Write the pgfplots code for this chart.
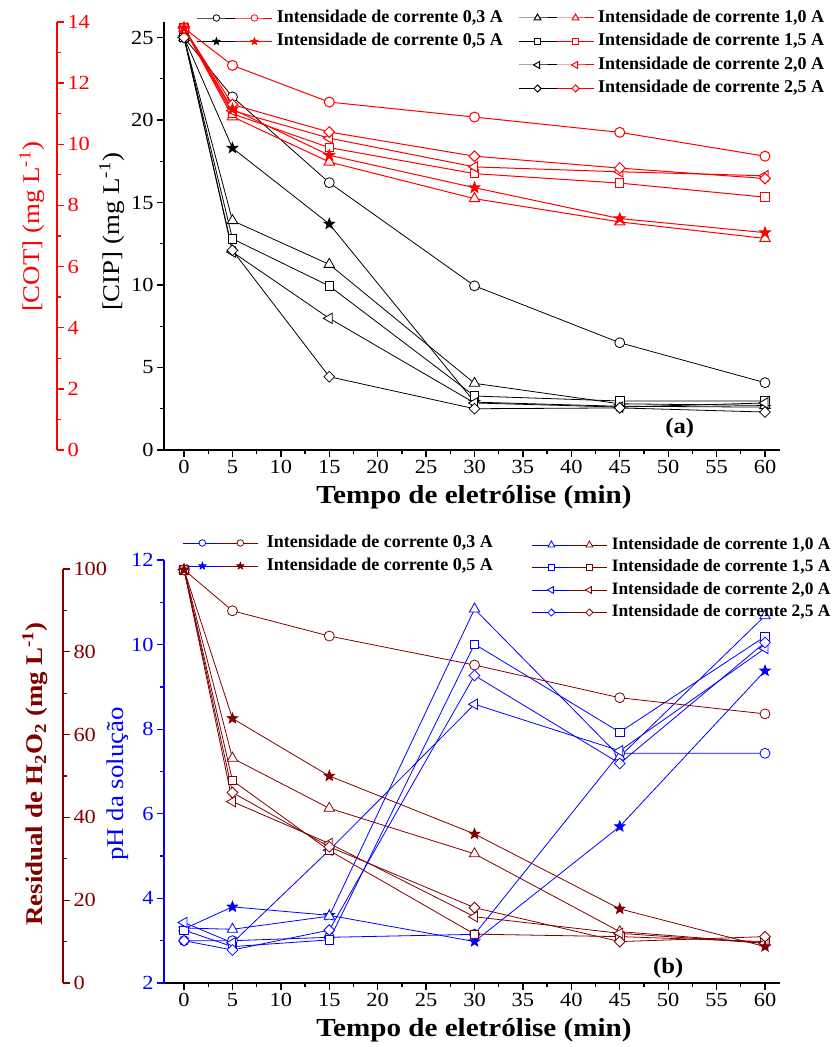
\documentclass[border=0pt]{standalone}
\usepackage{fontspec}
\setmainfont{Liberation Serif}[FakeStretch=1.12]
\newfontfamily\legfont{Liberation Serif}
\usepackage{pgfplots}
\pgfplotsset{compat=1.18}

\definecolor{cotred}{RGB}{255,0,0}
\definecolor{peroxide}{RGB}{128,0,0}
\definecolor{phblue}{RGB}{0,0,255}

% filled five-pointed star
\pgfdeclareplotmark{fstar}{%
  \pgfpathmoveto{\pgfpointpolar{90}{\pgfplotmarksize}}%
  \pgfpathlineto{\pgfpointpolar{126}{0.42\pgfplotmarksize}}%
  \pgfpathlineto{\pgfpointpolar{162}{\pgfplotmarksize}}%
  \pgfpathlineto{\pgfpointpolar{198}{0.42\pgfplotmarksize}}%
  \pgfpathlineto{\pgfpointpolar{234}{\pgfplotmarksize}}%
  \pgfpathlineto{\pgfpointpolar{270}{0.42\pgfplotmarksize}}%
  \pgfpathlineto{\pgfpointpolar{306}{\pgfplotmarksize}}%
  \pgfpathlineto{\pgfpointpolar{342}{0.42\pgfplotmarksize}}%
  \pgfpathlineto{\pgfpointpolar{18}{\pgfplotmarksize}}%
  \pgfpathlineto{\pgfpointpolar{54}{0.42\pgfplotmarksize}}%
  \pgfpathclose\pgfusepathqfillstroke}

\newcommand\ticksize{\fontsize{20}{22}\selectfont}
\newcommand\legsize{\legfont\bfseries\fontsize{18}{20}\selectfont}
\newcommand\legsizeb{\legfont\bfseries\fontsize{17.4}{20}\selectfont}

\pgfplotsset{
  mO/.style={mark=*, mark size=5pt, mark options={solid, fill=white}},
  mS/.style={mark=fstar, mark size=5.5pt, mark options={solid}},
  mT/.style={mark=triangle*, mark size=6pt, mark options={solid, fill=white}},
  mQ/.style={mark=square*, mark size=4.2pt, mark options={solid, fill=white}},
  mL/.style={mark=triangle*, mark size=6pt, mark options={solid, fill=white, rotate=90}},
  mD/.style={mark=square*, mark size=3.8pt, mark options={solid, fill=white, rotate=45}},
  pair legend/.style 2 args={legend image code/.code={%
    \draw[#1, every mark/.append style={scale=0.66}, mark repeat=2, mark phase=2]
      plot coordinates {(0pt,0pt) (19pt,0pt) (38pt,0pt)};
    \draw[#2, every mark/.append style={scale=0.66}, mark repeat=2, mark phase=2]
      plot coordinates {(38pt,0pt) (57pt,0pt) (75pt,0pt)};}},
  frame/.style={scale only axis, width=616pt, xmin=-2.07, xmax=61.55, clip=false,
    /pgf/number format/assume math mode=true,
    ticklabel style={font=\ticksize},
    tick align=outside, major tick length=7pt, minor tick length=4pt},
  pairs/.style={legend cell align=left,
    legend style={draw=none, fill=none, anchor=north west, inner sep=0pt, outer sep=0pt,
      font=\legsize, nodes={inner sep=0pt, text height=13pt, text depth=4pt}}},
}

\begin{document}
\begin{tikzpicture}
\useasboundingbox (0,0) rectangle (837pt,1047pt);

% ---------------- (a) CIP and COT ----------------
\begin{axis}[frame, at={(164pt,597pt)}, anchor=south west, height=428pt,
  ymin=0, ymax=25.94,
  axis x line*=bottom, axis y line*=left,
  axis line style={-, black, line width=1.5pt},
  tick style={black, line width=1.3pt},
  xtick={0,5,...,60}, minor x tick num=1,
  ytick={0,5,...,25}, minor y tick num=1,
  pairs, pair legend={black}{cotred},
  legend style={at={(0.0536,1.0292)}, row sep=6.5pt, column sep=4pt}]
\addplot[black, line width=0.8pt, mO] coordinates {(0,25) (5,21.4) (15,16.2) (30,9.95) (45,6.5) (60,4.08)};
\addlegendentry{Intensidade de corrente 0,3 A}
\addplot[black, line width=0.8pt, mS] coordinates {(0,25) (5,18.3) (15,13.7) (30,2.9) (45,2.65) (60,2.6)};
\addlegendentry{Intensidade de corrente 0,5 A}
\addplot[black, line width=0.8pt, mT] coordinates {(0,25) (5,13.9) (15,11.25) (30,4.04) (45,2.8) (60,2.7)};
\addplot[black, line width=0.8pt, mQ] coordinates {(0,25) (5,12.8) (15,9.94) (30,3.27) (45,2.97) (60,2.97)};
\addplot[black, line width=0.8pt, mL] coordinates {(0,25) (5,12.0) (15,7.98) (30,2.85) (45,2.6) (60,2.85)};
\addplot[black, line width=0.8pt, mD] coordinates {(0,25) (5,12.1) (15,4.44) (30,2.5) (45,2.55) (60,2.3)};
\node[font=\bfseries\fontsize{22}{24}\selectfont] at (axis cs:51.2,1.33) {(a)};
\end{axis}

\begin{axis}[frame, at={(164pt,597pt)}, anchor=south west, height=428pt,
  ymin=0, ymax=14, hide x axis, hide y axis,
  pairs, pair legend={black}{cotred},
  legend style={at={(0.5747,1.0292)}, row sep=6.5pt, column sep=4pt}]
\addplot[cotred, line width=1pt, mT] coordinates {(0,13.8) (5,10.9) (15,9.42) (30,8.22) (45,7.46) (60,6.92)};
\addlegendentry{Intensidade de corrente 1,0 A}
\addplot[cotred, line width=1pt, mQ] coordinates {(0,13.8) (5,11.0) (15,9.89) (30,9.04) (45,8.73) (60,8.27)};
\addlegendentry{Intensidade de corrente 1,5 A}
\addplot[cotred, line width=1pt, mL] coordinates {(0,13.8) (5,11.1) (15,10.2) (30,9.26) (45,9.1) (60,8.97)};
\addlegendentry{Intensidade de corrente 2,0 A}
\addplot[cotred, line width=1pt, mD] coordinates {(0,13.8) (5,11.3) (15,10.4) (30,9.61) (45,9.22) (60,8.88)};
\addlegendentry{Intensidade de corrente 2,5 A}
\addplot[cotred, line width=1pt, mO] coordinates {(0,13.8) (5,12.58) (15,11.38) (30,10.89) (45,10.39) (60,9.61)};
\addplot[cotred, line width=1pt, mS] coordinates {(0,13.8) (5,11.15) (15,9.64) (30,8.58) (45,7.57) (60,7.11)};
\end{axis}

% offset COT scale
\begin{axis}[scale only axis, at={(57pt,597pt)}, anchor=south east, width=20pt, height=428pt,
  xmin=0, xmax=1, ymin=0, ymax=14, hide x axis, axis y line*=right,
  y axis line style={-, cotred, line width=1.5pt},
  ytick style={cotred, line width=1.3pt}, yticklabel style={text=cotred, font=\ticksize},
  /pgf/number format/assume math mode=true,
  tick align=outside, major tick length=7pt, minor tick length=4pt,
  ytick={0,2,...,14}, minor y tick num=1]
\addplot[draw=none] coordinates {(0,0)};
\end{axis}

\node[rotate=90, text=cotred, font=\fontsize{24}{26}\selectfont] at (32pt,820pt) {[COT] (mg L\textsuperscript{-1})};
\node[rotate=90, font=\fontsize{24}{26}\selectfont] at (112pt,815pt) {[CIP] (mg L\textsuperscript{-1})};
\node[font=\bfseries\fontsize{26}{28}\selectfont] at (474pt,550pt) {Tempo de eletrólise (min)};

% ---------------- (b) pH and residual H2O2 ----------------
\begin{axis}[frame, at={(164pt,64pt)}, anchor=south west, height=423pt,
  ymin=2, ymax=12,
  axis x line*=bottom, axis y line*=left,
  x axis line style={-, black, line width=1.5pt},
  y axis line style={-, phblue, line width=1.5pt},
  xtick style={black, line width=1.3pt},
  ytick style={phblue, line width=1.3pt}, yticklabel style={text=phblue},
  xtick={0,5,...,60}, minor x tick num=1,
  ytick={2,4,...,12}, minor y tick num=1,
  pairs, pair legend={phblue}{peroxide},
  legend style={at={(0.0308,1.0603)}, row sep=6pt, column sep=8pt}]
\addplot[phblue, line width=0.8pt, mO] coordinates {(0,3.0) (5,3.0) (15,3.08) (30,3.15) (45,7.43) (60,7.43)};
\addlegendentry{Intensidade de corrente 0,3 A}
\addplot[phblue, line width=0.8pt, mS] coordinates {(0,3.28) (5,3.80) (15,3.6) (30,2.98) (45,5.7) (60,9.38)};
\addlegendentry{Intensidade de corrente 0,5 A}
\addplot[phblue, line width=0.8pt, mT] coordinates {(0,3.3) (5,3.27) (15,3.58) (30,10.84) (45,7.35) (60,10.68)};
\addplot[phblue, line width=0.8pt, mQ] coordinates {(0,3.25) (5,2.86) (15,3.02) (30,10.01) (45,7.93) (60,10.19)};
\addplot[phblue, line width=0.8pt, mL] coordinates {(0,3.43) (5,2.95) (15,5.14) (30,8.59) (45,7.49) (60,9.91)};
\addplot[phblue, line width=0.8pt, mD] coordinates {(0,3.0) (5,2.78) (15,3.25) (30,9.27) (45,7.19) (60,10.05)};
\node[font=\bfseries\fontsize{22}{24}\selectfont] at (axis cs:50,2.35) {(b)};
\end{axis}

\begin{axis}[frame, at={(164pt,64pt)}, anchor=south west, height=423pt,
  ymin=0, ymax=102.17, hide x axis, hide y axis,
  pairs, pair legend={phblue}{peroxide},
  legend style={at={(0.5974,1.0556)}, row sep=5.5pt, column sep=4pt, font=\legsizeb}]
\addplot[peroxide, line width=0.8pt, mT] coordinates {(0,99.8) (5,54.3) (15,42.2) (30,31.2) (45,12.4) (60,9.7)};
\addlegendentry{Intensidade de corrente 1,0 A}
\addplot[peroxide, line width=0.8pt, mQ] coordinates {(0,99.8) (5,48.9) (15,32.0) (30,11.8) (45,11.2) (60,10.0)};
\addlegendentry{Intensidade de corrente 1,5 A}
\addplot[peroxide, line width=0.8pt, mL] coordinates {(0,99.8) (5,43.8) (15,33.7) (30,16.0) (45,12.0) (60,9.6)};
\addlegendentry{Intensidade de corrente 2,0 A}
\addplot[peroxide, line width=0.8pt, mD] coordinates {(0,99.8) (5,46.0) (15,32.9) (30,18.2) (45,10.0) (60,11.2)};
\addlegendentry{Intensidade de corrente 2,5 A}
\addplot[peroxide, line width=0.8pt, mO] coordinates {(0,99.8) (5,89.9) (15,83.8) (30,76.8) (45,68.9) (60,65.0)};
\addplot[peroxide, line width=0.8pt, mS] coordinates {(0,99.8) (5,63.9) (15,50.0) (30,36.0) (45,17.9) (60,8.8)};
\end{axis}

% offset H2O2 scale
\begin{axis}[scale only axis, at={(63pt,64pt)}, anchor=south east, width=20pt, height=414pt,
  xmin=0, xmax=1, ymin=0, ymax=100, hide x axis, axis y line*=right,
  y axis line style={-, peroxide, line width=1.5pt},
  ytick style={peroxide, line width=1.3pt}, yticklabel style={text=peroxide, font=\ticksize},
  /pgf/number format/assume math mode=true,
  tick align=outside, major tick length=7pt, minor tick length=4pt,
  ytick={0,20,...,100}, minor y tick num=1]
\addplot[draw=none] coordinates {(0,0)};
\end{axis}

\node[rotate=90, text=peroxide, font=\bfseries\fontsize{24}{26}\selectfont] at (35pt,273pt) {Residual de H\textsubscript{2}O\textsubscript{2} (mg L\textsuperscript{-1})};
\node[rotate=90, text=phblue, font=\fontsize{24}{26}\selectfont] at (118pt,263pt) {pH da solução};
\node[font=\bfseries\fontsize{26}{28}\selectfont] at (474pt,17pt) {Tempo de eletrólise (min)};
\end{tikzpicture}
\end{document}
